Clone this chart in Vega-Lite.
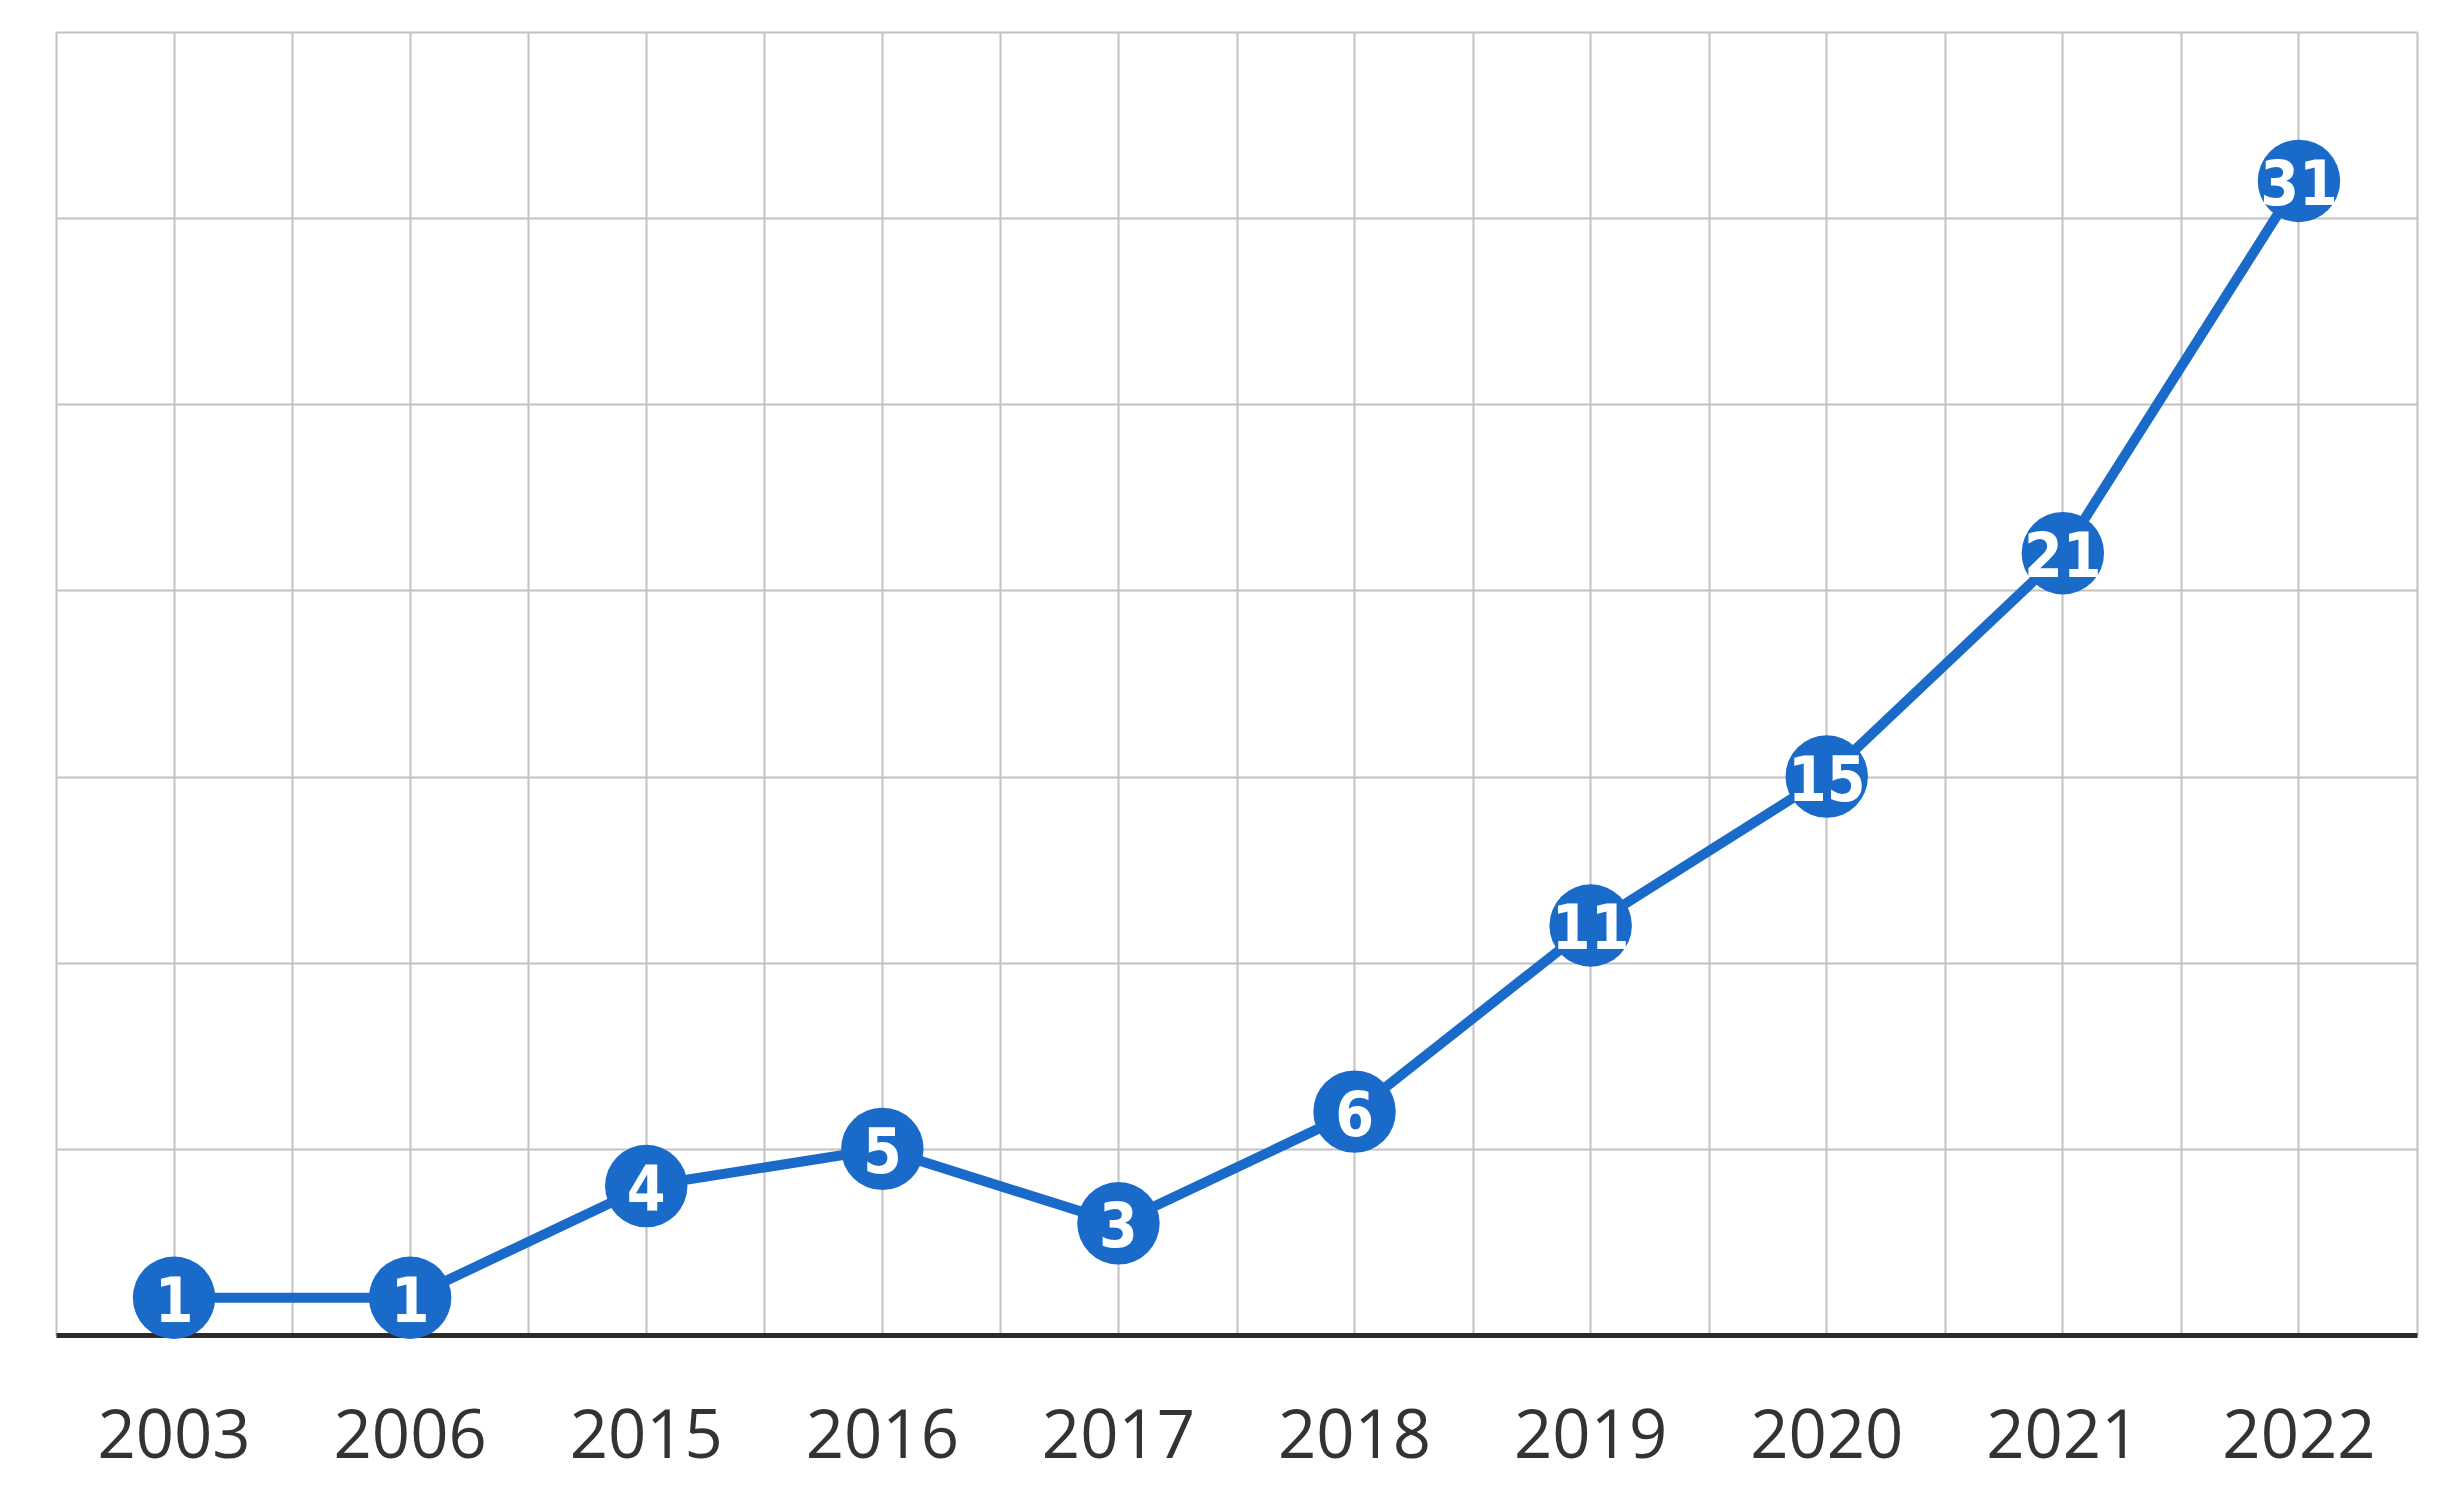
{
  "$schema": "https://vega.github.io/schema/vega-lite/v6.json",
  "autosize": {"type": "none"},
  "width": 2361,
  "height": 1303,
  "padding": {"left": 56, "top": 32, "right": 39, "bottom": 166},
  "background": "white",
  "config": {
    "view": {"stroke": null},
    "axis": {"gridColor": "#c2c2c2", "gridWidth": 2, "gridOpacity": 1}
  },
  "data": {
    "values": [
      {"year": "2003", "count": 1},
      {"year": "2006", "count": 1},
      {"year": "2015", "count": 4},
      {"year": "2016", "count": 5},
      {"year": "2017", "count": 3},
      {"year": "2018", "count": 6},
      {"year": "2019", "count": 11},
      {"year": "2020", "count": 15},
      {"year": "2021", "count": 21},
      {"year": "2022", "count": 31}
    ]
  },
  "resolve": {"axis": {"x": "independent"}},
  "layer": [
    {
      "mark": {"type": "line", "color": "#1a6bc9", "strokeWidth": 10},
      "encoding": {
        "x": {
          "field": "year", "type": "ordinal",
          "scale": {"type": "band", "paddingInner": 0, "paddingOuter": 0},
          "axis": {"orient": "bottom", "title": null, "labels": false, "ticks": false, "domain": false, "grid": true, "tickBand": "extent"}
        },
        "y": {
          "field": "count", "type": "quantitative",
          "scale": {"domain": [0, 35], "nice": false, "zero": true},
          "axis": {"title": null, "labels": false, "ticks": false, "domain": false, "grid": true, "values": [0, 5, 10, 15, 20, 25, 30, 35]}
        }
      }
    },
    {
      "mark": {"type": "circle", "color": "#1a6bc9", "opacity": 1, "size": 6800},
      "encoding": {
        "x": {
          "field": "year", "type": "ordinal",
          "scale": {"type": "band", "paddingInner": 0, "paddingOuter": 0},
          "axis": {"orient": "bottom", "title": null, "grid": true, "ticks": false, "tickSize": 0, "domain": true, "domainColor": "#2b2b2b", "domainWidth": 5, "labelAngle": 0, "labelFont": "Open Sans", "labelFontSize": 67, "labelColor": "#333333", "labelBaseline": "alphabetic", "labelPadding": 122}
        },
        "y": {"field": "count", "type": "quantitative"}
      }
    },
    {
      "mark": {"type": "text", "color": "white", "font": "DejaVu Sans Condensed", "fontWeight": "bold", "fontSize": 62, "baseline": "middle", "align": "center", "dy": 5},
      "encoding": {
        "x": {"field": "year", "type": "ordinal", "axis": null},
        "y": {"field": "count", "type": "quantitative"},
        "text": {"field": "count", "type": "quantitative"}
      }
    }
  ]
}
